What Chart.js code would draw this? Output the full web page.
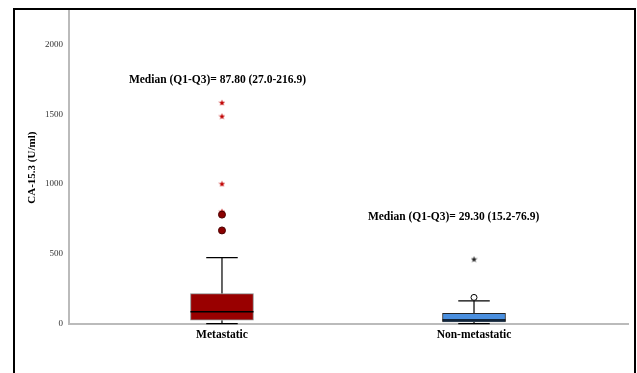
<!DOCTYPE html>
<html>
<head>
<meta charset="utf-8">
<title>CA-15.3 box plot</title>
<script src="https://cdn.jsdelivr.net/npm/chart.js@4/dist/chart.umd.min.js"></script>
<style>
    body { margin: 0; background: #fff; }
    canvas { display: block; }
</style>
</head>
<body>
<canvas id="boxChart" width="637" height="373"></canvas>
<script>
// Box plot data (values in U/ml)
const categories = ['Metastatic', 'Non-metastatic'];
const q1 = [27.0, 15.2];
const medians = [87.8, 29.3];
const q3 = [216.9, 76.9];
const whiskerLow = [2, 2];
const whiskerHigh = [475, 165];
const metaCircles = [782, 669];
const metaStars = [1583, 1486, 1003, 805];
const nonCircles = [190];
const nonStars = [464];
const yTicks = [0, 500, 1000, 1500, 2000];
const medianLabels = [
    'Median (Q1-Q3)= 87.80 (27.0-216.9)',
    'Median (Q1-Q3)= 29.30 (15.2-76.9)'
];

const serif = '"Liberation Serif", "Times New Roman", serif';

// small five-pointed star used as point style for extreme values
function makeStar(color) {
    const c = document.createElement('canvas');
    c.width = 7;
    c.height = 7;
    const g = c.getContext('2d');
    g.fillStyle = color;
    g.beginPath();
    for (let k = 0; k < 10; k++) {
        const r = k % 2 === 0 ? 3.4 : 1.4;
        const a = -Math.PI / 2 + k * Math.PI / 5;
        const px = 3.5 + r * Math.cos(a);
        const py = 3.8 + r * Math.sin(a);
        if (k === 0) g.moveTo(px, py); else g.lineTo(px, py);
    }
    g.closePath();
    g.fill();
    return c;
}

// Whiskers drawn under the boxes, medians on top
const whiskerPlugin = {
    id: 'whiskers',
    beforeDatasetsDraw(chart) {
        const ctx = chart.ctx;
        const x = chart.scales.x;
        const y = chart.scales.y;
        const boxes = chart.getDatasetMeta(0).data;
        ctx.save();
        ctx.strokeStyle = '#000';
        ctx.lineWidth = 1.2;
        categories.forEach((c, i) => {
            const cx = x.getPixelForValue(i);
            const half = boxes[i].width / 4;
            [[q3[i], whiskerHigh[i]], [q1[i], whiskerLow[i]]].forEach(pair => {
                const ya = y.getPixelForValue(pair[0]);
                const yb = y.getPixelForValue(pair[1]);
                ctx.beginPath();
                ctx.moveTo(cx, ya);
                ctx.lineTo(cx, yb);
                ctx.moveTo(cx - half, yb);
                ctx.lineTo(cx + half, yb);
                ctx.stroke();
            });
        });
        ctx.restore();
    },
    afterDatasetsDraw(chart) {
        const ctx = chart.ctx;
        const x = chart.scales.x;
        const y = chart.scales.y;
        const boxes = chart.getDatasetMeta(0).data;
        ctx.save();
        ctx.strokeStyle = '#000';
        ctx.lineWidth = 1.5;
        categories.forEach((c, i) => {
            const cx = x.getPixelForValue(i);
            const half = boxes[i].width / 2;
            const my = y.getPixelForValue(medians[i]);
            ctx.beginPath();
            ctx.moveTo(cx - half, my);
            ctx.lineTo(cx + half, my);
            ctx.stroke();
        });
        ctx.restore();
    }
};

// Median (Q1-Q3) captions and outer frame
const notesPlugin = {
    id: 'notes',
    afterDraw(chart) {
        const ctx = chart.ctx;
        const x = chart.scales.x;
        const y = chart.scales.y;
        const anchors = [[-0.018, 1745], [0.919, 763]];
        ctx.save();
        ctx.font = 'bold 11.5px ' + serif;
        ctx.fillStyle = '#000';
        ctx.textAlign = 'center';
        ctx.textBaseline = 'middle';
        medianLabels.forEach((t, i) => {
            ctx.fillText(t, x.getPixelForValue(anchors[i][0]), y.getPixelForValue(anchors[i][1]));
        });
        ctx.strokeStyle = '#000';
        ctx.lineWidth = 2;
        ctx.strokeRect(14, 9, 621, 500);
        ctx.restore();
    }
};

const ctx = document.getElementById('boxChart').getContext('2d');
new Chart(ctx, {
    data: {
        datasets: [
            {
                type: 'bar',
                data: categories.map((c, i) => ({ x: i, y: [q1[i], q3[i]] })),
                backgroundColor: ['#990000', '#4a8fdf'],
                borderColor: ['#8a8a8a', '#222'],
                borderWidth: 1,
                borderSkipped: false,
                barThickness: 63
            },
            {
                type: 'scatter',
                data: metaCircles.map(v => ({ x: 0, y: v })),
                pointStyle: 'circle',
                radius: 3.5,
                backgroundColor: '#8b0000',
                borderColor: '#4a0000',
                borderWidth: 1
            },
            {
                type: 'scatter',
                data: nonCircles.map(v => ({ x: 1, y: v })),
                pointStyle: 'circle',
                radius: 3,
                backgroundColor: '#fff',
                borderColor: '#000',
                borderWidth: 1
            },
            {
                type: 'scatter',
                data: metaStars.map(v => ({ x: 0, y: v })),
                pointStyle: makeStar('#c00000')
            },
            {
                type: 'scatter',
                data: nonStars.map(v => ({ x: 1, y: v })),
                pointStyle: makeStar('#222')
            }
        ]
    },
    options: {
        responsive: false,
        animation: false,
        layout: { padding: { left: 0, right: 9, top: 8, bottom: 0 } },
        plugins: {
            legend: { display: false },
            tooltip: { enabled: false }
        },
        scales: {
            x: {
                type: 'linear',
                offset: false,
                min: -0.607,
                max: 1.611,
                afterBuildTicks: scale => {
                    scale.ticks = categories.map((c, i) => ({ value: i }));
                },
                afterFit: scale => { scale.height = 49; },
                ticks: {
                    callback: (value, index) => categories[index],
                    font: { family: serif, size: 11.5, weight: 'bold' },
                    color: '#000',
                    padding: 4,
                    maxRotation: 0
                },
                grid: { display: false, drawTicks: false },
                border: { display: true, color: '#bbb', width: 2 }
            },
            y: {
                min: 0,
                max: 2235,
                afterBuildTicks: scale => {
                    scale.ticks = yTicks.map(v => ({ value: v }));
                },
                afterFit: scale => { scale.width = 69; },
                ticks: {
                    callback: value => String(value),
                    font: { family: serif, size: 9 },
                    color: '#333',
                    padding: 6
                },
                grid: { display: false, drawTicks: false },
                border: { display: true, color: '#bbb', width: 2 },
                title: {
                    display: true,
                    text: 'CA-15.3 (U/ml)',
                    font: { family: serif, size: 11, weight: 'bold' },
                    color: '#000',
                    padding: { top: 26, bottom: 0 }
                }
            }
        }
    },
    plugins: [whiskerPlugin, notesPlugin]
});
</script>
</body>
</html>
